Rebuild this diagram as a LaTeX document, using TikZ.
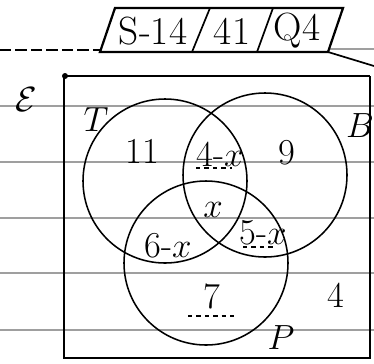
\documentclass[tikz,border=0pt]{standalone}
\begin{document}
\begin{tikzpicture}[x=0.25mm,y=-0.25mm]
\useasboundingbox (0,0) rectangle (374,363);
% notebook rules
\foreach \yy in {106,162,218,273,330}
  \draw[gray!75, line width=0.8pt] (0,\yy) -- (374,\yy);
\draw[gray!75, line width=0.8pt] (330,49) -- (374,49);
\draw[line width=1.2pt, dash pattern=on 8pt off 3pt] (0,50) -- (100,50);

% header box
\draw[line width=1.6pt] (115,8) -- (343,8) -- (328,52) -- (100,52) -- cycle;
\draw[line width=1.2pt] (210,8) -- (192,52);
\draw[line width=1.2pt] (273,8) -- (257,52);
\node[inner sep=0, font=\fontsize{28}{30}\selectfont] (h1) at (153,31) {S-14};
\node[inner sep=0, font=\fontsize{28}{30}\selectfont] (h2) at (232,31) {41};
\node[inner sep=0, font=\fontsize{28}{30}\selectfont] (h3) at (297,31) {Q4};
\coordinate (hdr-br) at (328,52);
\coordinate (pen-end) at (374,66);
\draw[line width=1.2pt] (hdr-br) -- (pen-end);

% universal set
\draw[line width=1.8pt] (370,76) -- (64,76) -- (64,358) -- (370,358) -- (370,76);
\fill (65,76) circle (3);
\node[inner sep=0, font=\fontsize{30}{32}\selectfont] (E) at (26,100) {$\mathcal{E}$};

% the three sets
\draw[line width=1.1pt] (165,181) circle (82);
\draw[line width=1.1pt] (265,175) circle (82);
\draw[line width=1.1pt] (206,263) circle (82);
\node[inner sep=0, font=\fontsize{26}{28}\selectfont] (lT) at (96,120) {$T$};
\node[inner sep=0, font=\fontsize{26}{28}\selectfont] (lB) at (360,126) {$B$};
\node[inner sep=0, font=\fontsize{26}{28}\selectfont] (lP) at (281,338) {$P$};

% regions
\tikzset{val/.style={inner sep=0, font=\fontsize{26}{28}\selectfont}}
\node[val] (r11) at (142,151) {11};
\node[val] (r4x) at (220,154) {4-$x$};
\node[val] (r9) at (287,153) {9};
\node[val] (rx) at (213,210) {$x$};
\node[val] (r5x) at (263,233) {5-$x$};
\node[val] (r6x) at (168,246) {6-$x$};
\node[val] (r7) at (212,296) {7};
\node[val] (r4) at (336,295) {4};
\draw[dashed, thick] (196,168) -- (232,168);
\draw[dashed, thick] (243,247) -- (275,247);
\draw[dashed, thick] (188,316) -- (237,316);
\end{tikzpicture}
\end{document}
